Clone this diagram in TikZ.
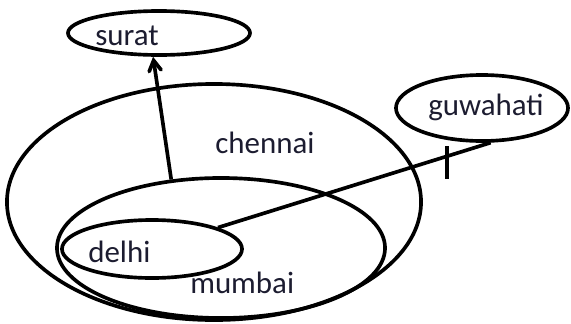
\documentclass[tikz,border=0pt]{standalone}
\usepackage{fontspec}
\setmainfont{Carlito}
\usetikzlibrary{shapes.geometric, arrows}
\definecolor{ink}{RGB}{28,28,48}
\tikzstyle{city} = [ellipse, draw=black, line width=2.6pt, inner sep=0]
\tikzstyle{citytext} = [anchor=base west, inner sep=0, text=ink, font=\fontsize{22}{26}\selectfont]
\tikzstyle{arrow} = [line width=2.6pt,->,>=angle 60]
\tikzstyle{line} = [line width=2.6pt]

\begin{document}
\begin{tikzpicture}[x=0.025cm,y=-0.025cm]
\useasboundingbox (0,0) rectangle (571,323);

\node[city, minimum width=10.35cm, minimum height=5.9cm] (chennai) at (214,202) {};
\node[city, minimum width=8.2cm, minimum height=3.5cm] (mumbai) at (221,248) {};
\node[city, minimum width=4.5cm, minimum height=1.45cm] (delhi) at (152,249) {};
\node[city, minimum width=4.55cm, minimum height=1.1cm] (surat) at (159,33) {};
\node[city, minimum width=4.3cm, minimum height=1.65cm] (guwahati) at (482,108) {};

\node[citytext] (surat-t) at (95,45) {surat};
\node[citytext] (guwahati-t) at (428,115) {guwahati};
\node[citytext] (chennai-t) at (215,153) {chennai};
\node[citytext] (delhi-t) at (88,262) {delhi};
\node[citytext] (mumbai-t) at (190,293) {mumbai};

\draw[arrow] (mumbai.126) -- (surat.256);
\draw[line] (delhi.18) -- coordinate[pos=0.84] (bar) (guwahati.284);
\draw[line] (bar) ++(0,-10) -- ++(0,33);

\end{tikzpicture}
\end{document}
